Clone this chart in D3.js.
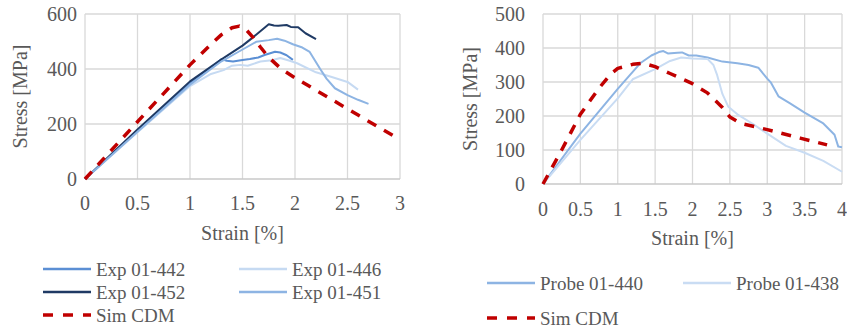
<!DOCTYPE html>
<html>
<head>
<meta charset="utf-8">
<script src="https://cdn.jsdelivr.net/npm/d3@7"></script>
<style>
  body { margin: 0; background: #fff; }
  svg text { font-family: "Liberation Serif", serif; fill: #595959; }
</style>
</head>
<body>
<svg id="chart" width="847" height="333" font-family="Liberation Serif, serif"></svg>
<script>
// ---- left panel data: [strain %, stress MPa]
const exp442 = [[0,0],[0.5,175],[1.0,348],[1.2,405],[1.3,436],[1.35,430],[1.41,427],[1.5,433],[1.57,436],[1.65,442],[1.71,451],[1.81,463],[1.86,460],[1.92,450],[1.98,433]];
const exp446 = [[0,0],[0.5,170],[1.0,338],[1.2,382],[1.32,396],[1.4,412],[1.48,415],[1.55,412],[1.67,427],[1.78,432],[1.86,440],[1.95,430],[2.02,421],[2.2,388],[2.35,371],[2.5,353],[2.6,325]];
const exp452 = [[0,0],[0.5,180],[1.0,355],[1.3,435],[1.5,485],[1.6,515],[1.75,563],[1.8,558],[1.84,557],[1.92,560],[1.96,553],[2.03,552],[2.1,530],[2.2,509]];
const exp451 = [[0,0],[0.5,172],[1.0,343],[1.2,400],[1.3,428],[1.45,460],[1.63,499],[1.75,505],[1.83,510],[1.9,503],[1.98,490],[2.07,478],[2.14,462],[2.24,400],[2.3,365],[2.38,330],[2.5,305],[2.6,288],[2.7,273]];
const simLeft = [[0,0],[0.5,208],[1.0,415],[1.2,490],[1.3,525],[1.4,550],[1.47,556],[1.53,545],[1.6,515],[1.67,480],[1.75,442],[1.87,400],[2.0,368],[2.5,255],[3.0,143]];

// ---- right panel data
const probe440 = [[0,0],[0.5,148],[1.0,280],[1.3,355],[1.45,378],[1.55,388],[1.61,391],[1.67,384],[1.8,386],[1.86,387],[1.95,378],[2.05,378],[2.2,372],[2.4,360],[2.6,355],[2.75,350],[2.88,342],[3.0,310],[3.05,298],[3.15,258],[3.3,238],[3.5,210],[3.75,178],[3.9,145],[3.95,110],[4.0,108]];
const probe438 = [[0,0],[0.5,130],[1.0,252],[1.2,308],[1.5,338],[1.7,362],[1.85,372],[2.0,369],[2.2,368],[2.28,350],[2.33,320],[2.4,265],[2.48,227],[2.6,205],[2.8,178],[3.0,148],[3.25,112],[3.5,92],[3.75,68],[4.0,36]];
const simRight = [[0,0],[0.25,100],[0.5,205],[0.75,282],[0.9,322],[1.0,340],[1.2,352],[1.35,355],[1.5,345],[1.7,325],[2.0,295],[2.2,268],[2.4,225],[2.5,197],[2.65,178],[3.0,160],[3.44,135],[3.8,115]];

const leftXTicks = [0, 0.5, 1, 1.5, 2, 2.5, 3];
const leftYTicks = [0, 200, 400, 600];
const rightXTicks = [0, 0.5, 1, 1.5, 2, 2.5, 3, 3.5, 4];
const rightYTicks = [0, 100, 200, 300, 400, 500];

const leftSeries = [
  { name: 'Exp 01-442', data: exp442, color: '#5b8fd4' },
  { name: 'Exp 01-446', data: exp446, color: '#c6daf2' },
  { name: 'Exp 01-452', data: exp452, color: '#1f3a64' },
  { name: 'Exp 01-451', data: exp451, color: '#8db4e3' },
  { name: 'Sim CDM', data: simLeft, color: '#c00000', dashed: true }
];
const rightSeries = [
  { name: 'Probe 01-440', data: probe440, color: '#8db4e3' },
  { name: 'Probe 01-438', data: probe438, color: '#c9dcf3' },
  { name: 'Sim CDM', data: simRight, color: '#c00000', dashed: true }
];

const svg = d3.select('#chart');

function drawPanel(p) {
  const x = d3.scaleLinear().domain(p.xDomain).range([p.left, p.right]);
  const y = d3.scaleLinear().domain(p.yDomain).range([p.bottom, p.top]);
  const g = svg.append('g');

  // grid
  g.selectAll('.vg').data(p.xTicks).enter().append('line')
    .attr('x1', d => x(d)).attr('x2', d => x(d))
    .attr('y1', p.top).attr('y2', p.bottom)
    .attr('stroke', '#d9d9d9').attr('stroke-width', 1.3);
  g.selectAll('.hg').data(p.yTicks).enter().append('line')
    .attr('x1', p.left).attr('x2', p.right)
    .attr('y1', d => y(d)).attr('y2', d => y(d))
    .attr('stroke', d => d === 0 ? '#c8c8c8' : '#d9d9d9').attr('stroke-width', d => d === 0 ? 1.6 : 1.3);

  // tick labels
  g.selectAll('.xt').data(p.xTicks).enter().append('text')
    .attr('x', d => x(d)).attr('y', p.bottom + p.xLabelOff)
    .attr('text-anchor', 'middle').style('font-size', '20px')
    .text(d => d);
  g.selectAll('.yt').data(p.yTicks).enter().append('text')
    .attr('x', p.left - p.yLabelGap).attr('y', d => y(d) + 7)
    .attr('text-anchor', 'end').style('font-size', '20px')
    .text(d => d);

  // axis titles
  g.append('text')
    .attr('transform', 'translate(' + p.yTitleX + ',' + ((p.top + p.bottom) / 2) + ')rotate(-90)')
    .attr('text-anchor', 'middle').style('font-size', '20px')
    .text('Stress [MPa]');
  g.append('text')
    .attr('x', (p.left + p.right) / 2).attr('y', p.xTitleY)
    .attr('text-anchor', 'middle').style('font-size', '20px')
    .text('Strain [%]');

  // lines
  const line = d3.line().x(d => x(d[0])).y(d => y(d[1]));
  p.series.forEach(s => {
    g.append('path')
      .datum(s.data)
      .attr('d', line)
      .attr('fill', 'none')
      .attr('stroke', s.color)
      .attr('stroke-width', s.dashed ? 3.5 : 2)
      .attr('stroke-dasharray', s.dashed ? '10,9' : null)
      .attr('stroke-linejoin', 'round');
  });

  // legend
  p.series.forEach((s, i) => {
    const pos = p.legend[i];
    g.append('line')
      .attr('x1', pos[0]).attr('x2', pos[0] + 48)
      .attr('y1', pos[1]).attr('y2', pos[1])
      .attr('stroke', s.color)
      .attr('stroke-width', s.dashed ? 3.5 : 2.5)
      .attr('stroke-dasharray', s.dashed ? '10,10' : null);
    g.append('text')
      .attr('x', pos[0] + 53).attr('y', pos[1] + 6.5)
      .style('font-size', '19px')
      .text(s.name);
  });
}

drawPanel({
  xDomain: [0, 3], yDomain: [0, 600],
  left: 85, right: 400, top: 14, bottom: 179,
  xTicks: leftXTicks, yTicks: leftYTicks,
  xLabelOff: 31, yLabelGap: 8, yTitleX: 27, xTitleY: 240,
  series: leftSeries,
  legend: [[43, 269], [239, 269], [43, 292], [239, 292], [43, 315]]
});

drawPanel({
  xDomain: [0, 4], yDomain: [0, 500],
  left: 543, right: 842, top: 14, bottom: 184,
  xTicks: rightXTicks, yTicks: rightYTicks,
  xLabelOff: 32, yLabelGap: 18, yTitleX: 477, xTitleY: 245,
  series: rightSeries,
  legend: [[487, 283], [683, 283], [487, 318]]
});
</script>
</body>
</html>
